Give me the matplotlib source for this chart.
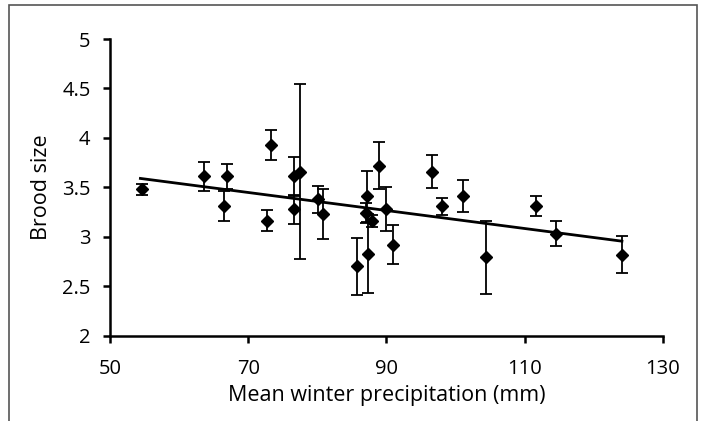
import matplotlib
matplotlib.use('Agg')
import matplotlib.pyplot as plt

# Precipitacion media de invierno (mm) y tamano de nidada
precip = [54.6, 63.6, 66.9, 66.5, 73.3, 72.7, 76.7, 76.6, 77.5, 80.1,
          80.8, 87.2, 87.1, 87.9, 87.3, 85.7, 88.9, 90.0, 90.9, 96.6,
          98.1, 101.1, 104.4, 111.6, 114.6, 124.1]
brood = [3.48, 3.61, 3.61, 3.31, 3.93, 3.16, 3.61, 3.28, 3.66, 3.38,
         3.23, 3.41, 3.24, 3.16, 2.83, 2.70, 3.72, 3.28, 2.92, 3.66,
         3.31, 3.41, 2.79, 3.31, 3.03, 2.82]
err = [0.056, 0.15, 0.13, 0.15, 0.155, 0.106, 0.20, 0.147, 0.886, 0.138,
       0.255, 0.257, 0.10, 0.062, 0.40, 0.292, 0.236, 0.22, 0.20, 0.17,
       0.085, 0.162, 0.37, 0.10, 0.128, 0.187]

# recta de tendencia (extremos)
trend_x = [54.4, 124.1]
trend_y = [3.59, 2.955]

plt.rcParams['font.family'] = ['Open Sans', 'DejaVu Sans']

fig = plt.figure(figsize=(7.02, 4.21), dpi=100)
ax = fig.add_axes([0.1567, 0.2029, 0.7873, 0.7043])

ax.errorbar(precip, brood, yerr=err, fmt='D', color='black',
            markersize=6.5, ecolor='black', elinewidth=1.3,
            capsize=4, capthick=1.3)
ax.plot(trend_x, trend_y, color='black', linewidth=2)

ax.set_xlim(50, 130)
ax.set_ylim(2, 5)
ax.set_xticks([50, 70, 90, 110, 130])
ax.set_yticks([2, 2.5, 3, 3.5, 4, 4.5, 5])
ax.set_yticklabels(['2', '2.5', '3', '3.5', '4', '4.5', '5'])

for s in ['top', 'right']:
    ax.spines[s].set_visible(False)
for s in ['left', 'bottom']:
    ax.spines[s].set_linewidth(1.8)

ax.tick_params(axis='both', direction='out', length=5, width=1.8,
               labelsize=14.5)
ax.tick_params(axis='x', pad=12)
ax.tick_params(axis='y', pad=9)
ax.set_xlabel('Mean winter precipitation (mm)', fontsize=15.5, labelpad=4)
ax.set_ylabel('Brood size', fontsize=15.5, labelpad=7)

# marco gris alrededor de la figura
borde = plt.Rectangle((9 / 702, -0.01), (697 - 9) / 702, 1 - 5 / 421 + 0.01,
                      transform=fig.transFigure, fill=False,
                      edgecolor='#555555', linewidth=1.2)
fig.patches.append(borde)

fig.savefig('out.png', dpi=100)
